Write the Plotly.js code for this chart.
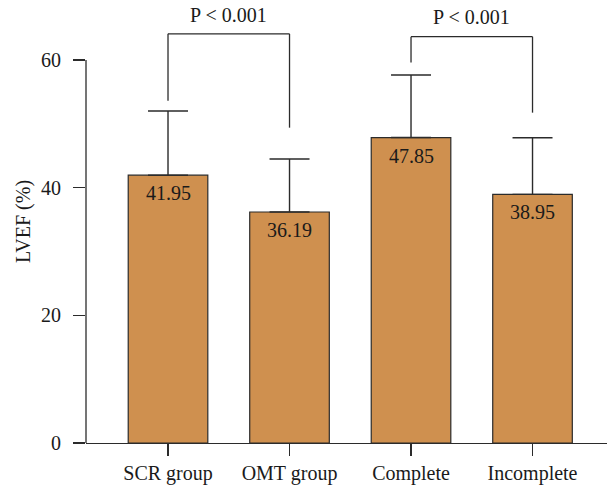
<!DOCTYPE html>
<html>
<head>
<meta charset="utf-8">
<script src="https://cdn.plot.ly/plotly-3.0.1.min.js"></script>
<style>html,body{margin:0;padding:0;background:#fff;}#chart{width:607px;height:487px;}</style>
</head>
<body>
<div id="chart"></div>
<script>
// Data
var categories = ["SCR group", "OMT group", "Complete", "Incomplete"];
var lvefMeans = [41.95, 36.19, 47.85, 38.95];
var lvefSD = [10.06, 8.30, 9.80, 8.88];
var valueLabels = ["41.95", "36.19", "47.85", "38.95"];
var yTickVals = [0, 20, 40, 60];
var yAxisTop = 60;
// comparison brackets: [left category, right category, left end, top, right end, label, label y]
var comparisons = [
  ["SCR group", "OMT group", 53.6, 64.1, 49.4, "P < 0.001", 67.05],
  ["Complete", "Incomplete", 59.6, 63.65, 51.75, "P < 0.001", 66.7]
];

var FONT = "'Liberation Serif', 'Times New Roman', serif";
var LINE = "#2b2b2b";
var TXT = "#1a1a1a";
var FS = 20;

var trace = {
  type: "bar",
  x: categories,
  y: lvefMeans,
  width: 0.655,
  marker: {color: "#CF904F", line: {color: LINE, width: 1.2}},
  error_y: {type: "data", array: lvefSD, arrayminus: lvefSD.map(function(){return 0;}),
            symmetric: false, visible: true, color: LINE, thickness: 1.4, width: 20},
  hoverinfo: "skip"
};

var shapes = [];
var annotations = [];
shapes.push({type: "line", xref: "paper", yref: "y", x0: 0, x1: 0, y0: 0, y1: yAxisTop,
             line: {color: LINE, width: 1.3}});
comparisons.forEach(function(c) {
  shapes.push({type: "line", xref: "x", yref: "y", x0: c[0], x1: c[0], y0: c[2], y1: c[3], line: {color: LINE, width: 1.3}});
  shapes.push({type: "line", xref: "x", yref: "y", x0: c[0], x1: c[1], y0: c[3], y1: c[3], line: {color: LINE, width: 1.3}});
  shapes.push({type: "line", xref: "x", yref: "y", x0: c[1], x1: c[1], y0: c[3], y1: c[4], line: {color: LINE, width: 1.3}});
});
comparisons.forEach(function(c) {
  var i0 = categories.indexOf(c[0]), i1 = categories.indexOf(c[1]);
  annotations.push({xref: "x", yref: "y", x: (i0 + i1) / 2, y: c[6], text: c[5], showarrow: false,
    yanchor: "middle", font: {family: FONT, size: FS, color: TXT}});
});
categories.forEach(function(cat, i) {
  annotations.push({xref: "x", yref: "y", x: cat, y: lvefMeans[i], text: valueLabels[i], showarrow: false,
    yanchor: "middle", yshift: -18, font: {family: FONT, size: FS, color: TXT}});
});

var layout = {
  width: 607, height: 487,
  margin: {l: 86, r: 0, t: 0, b: 44},
  paper_bgcolor: "#fff", plot_bgcolor: "#fff",
  showlegend: false,
  font: {family: FONT, size: FS, color: TXT},
  xaxis: {type: "category", range: [-0.675, 3.613], showline: true, linecolor: LINE, linewidth: 1.3,
          ticks: "outside", ticklen: 12, tickcolor: LINE, tickwidth: 1.3, showgrid: false, zeroline: false,
          tickfont: {family: FONT, size: FS, color: TXT}, fixedrange: true},
  yaxis: {range: [0, 69.4], tickvals: yTickVals, showline: false, ticks: "outside", ticklen: 12,
          tickcolor: LINE, tickwidth: 1.3, showgrid: false, zeroline: false, ticklabelstandoff: 8,
          tickfont: {family: FONT, size: FS, color: TXT},
          title: {text: "LVEF (%)", font: {family: FONT, size: FS, color: TXT}, standoff: 5},
          fixedrange: true},
  shapes: shapes,
  annotations: annotations
};

Plotly.newPlot("chart", [trace], layout, {displayModeBar: false, staticPlot: true});
</script>
</body>
</html>
